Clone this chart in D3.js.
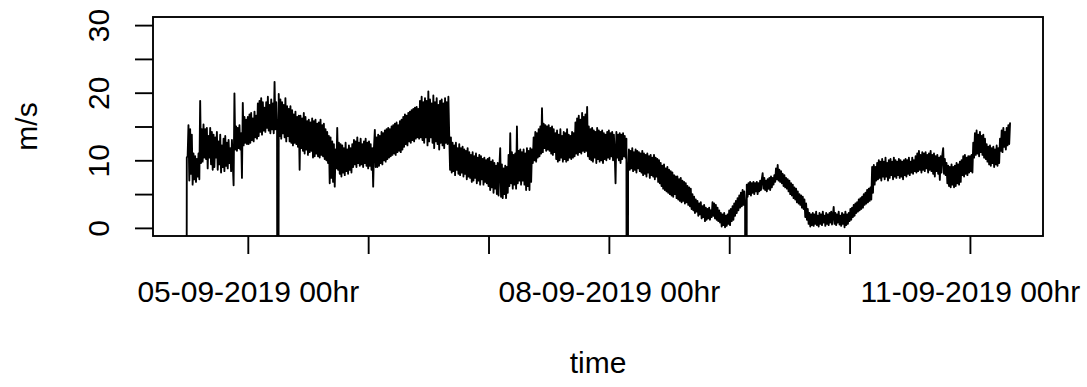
<!DOCTYPE html>
<html>
<head>
<meta charset="utf-8">
<script src="https://cdn.jsdelivr.net/npm/d3@7"></script>
<style>
  html, body { margin: 0; padding: 0; background: #ffffff; }
  svg { display: block; }
  text { font-family: "Liberation Sans", Arial, sans-serif; fill: #000; }
</style>
</head>
<body>
<svg id="chart" width="1087" height="387"></svg>
<script>
// Wind speed (m/s), 10-minute samples, one array per calendar day (UTC).
// -99 is the logger's missing-value code.
const MISSING = -99;
const stepMinutes = 10;

const sep04 = [-99, 10.4, 10.6,
  15.2, 7.0, 14.6, 8.0, 13.8, 6.4, 11.0, 7.2,
  10.6, 6.8, 10.2, 7.6, 11.0, 7.2, 18.8, 9.6, 14.6,
  9.8, 15.3, 10.4, 14.6, 10.2, 14.8, 8.8, 13.6, 10.4, 14.8, 9.4,
  14.2, 8.6, 13.8, 9.0, 13.4, 10.4, 14.2, 8.6, 12.8, 9.4, 13.8, 8.2, 12.2, 9.0,
  13.2, 8.4, 13.6, 9.2, 12.6, 8.8, 13.0, 9.6, 11.8, 8.4, 13.0, 9.6,
  6.3, 19.9,
  11.6, 15.0, 11.4, 14.8, 11.8, 15.2, 11.6, 14.0,
  7.4, 18.5,
  12.2, 16.4, 12.6, 16.0, 12.4];

const sep05 = [16.4, 12.4, 16.8, 12.6, 17.0, 13.0, 16.2, 12.8, 17.2, 13.4, 16.6, 13.2,
  18.4, 13.6, 18.8, 14.2, 19.2, 13.8, 18.6, 14.4, 17.8, 14.2,
  18.6, 14.8, 19.4, 14.4, 18.2, 14.0, 19.0, 14.6,
  18.4, 14.0, 21.6, 14.6, 18.6, 15.0,
  -99,
  19.8, 13.6, 19.0, 13.2, 18.6, 14.0, 18.2, 13.4, 19.2, 12.8,
  18.0, 13.6, 17.6, 12.8, 18.0, 12.6,
  17.4, 12.2, 16.8, 12.6, 17.2, 12.4, 16.4, 12.0, 16.6,
  8.6,
  16.6, 11.8, 16.2, 11.4, 17.0, 11.0, 16.4, 11.6, 15.8, 10.8,
  16.0, 11.2, 15.6, 11.4, 16.2, 10.4, 15.8, 10.6, 16.0, 11.0,
  15.4, 10.6, 15.6, 10.4, 16.0, 10.8, 15.2, 10.6, 15.4,
  10.2, 14.6, 10.0, 14.2, 9.6, 13.6,
  6.6, 13.4, 7.4, 12.8, 6.8, 12.4, 6.1, 11.6,
  8.8, 14.8, 8.6, 12.6,
  8.0, 12.4, 7.6, 12.2, 8.2, 11.8, 7.8, 12.6, 8.4, 11.6,
  8.0, 12.2, 8.6, 11.8, 8.2, 12.4,
  9.0, 13.0, 9.4, 12.8, 9.0, 13.4, 9.6, 12.6, 9.2, 13.2,
  9.4, 12.4, 9.0, 12.8, 9.6, 13.2, 9.2, 12.6];

const sep06 = [8.8, 12.8, 9.2, 12.4, 8.6, 11.8, 6.1, 12.0, 14.5, 9.0,
  13.4, 9.0, 13.8, 9.2, 13.6, 9.6, 14.2, 9.4, 14.0, 10.0,
  14.4, 9.8, 14.6, 10.2, 14.8, 10.4, 14.6, 10.6, 15.0, 10.8,
  15.2, 11.0, 15.4, 10.8, 15.6, 11.2, 15.2, 11.4, 15.8, 11.2,
  16.0, 11.6,
  16.4, 12.0, 16.8, 12.4, 16.6, 12.2, 17.0, 12.8, 17.2, 12.6,
  17.4, 13.0, 17.6, 12.8, 17.8, 13.2, 17.9, 13.4, 17.6, 13.2,
  18.8, 13.4, 19.4, 13.0, 18.6, 12.6, 19.2, 13.4, 18.8, 12.2,
  20.2, 12.8, 19.0, 13.4, 18.4, 12.6, 19.6, 11.8, 18.6, 12.8,
  19.2, 12.4, 18.2, 11.6, 18.8, 12.6, 19.0, 12.2, 18.4, 11.8,
  19.2, 12.6, 18.6, 12.4,
  19.4, 13.6,
  8.6,
  13.4, 8.2, 12.6, 8.4, 12.2, 7.8, 12.6, 8.6, 11.8, 8.0,
  12.4, 7.8, 11.8, 8.2, 12.0, 7.6, 11.6, 8.0, 11.4, 7.2,
  11.8, 7.6, 11.2,
  7.4, 10.8, 6.8, 11.2, 7.0, 10.6, 7.4, 11.0, 6.6, 10.4,
  7.0, 10.8, 6.4, 10.6, 7.2, 10.2, 6.4, 10.4, 6.8, 10.0,
  6.6, 10.2];

const sep07 = [6.2, 10.4, 5.6, 9.8, 6.0, 10.0, 5.2, 9.6, 5.8, 9.2,
  5.0, 9.6, 4.8, 9.0, 11.8, 4.6, 9.4, 4.4, 8.8, 5.0,
  9.2, 4.4, 9.0, 5.2,
  10.8, 6.2, 14.0, 6.6, 11.2, 5.8, 10.8, 6.4, 11.0, 5.8,
  15.0, 6.6, 11.4, 7.0, 11.6, 6.4, 11.2, 7.0, 11.6, 6.4,
  11.0, 5.6, 11.8, 6.2, 11.4, 5.6, 11.8, 6.8, 11.6,
  9.6, 13.4, 10.0, 14.2, 9.8, 14.0, 10.4, 14.6, 10.6, 15.0, 11.0,
  17.7,
  11.2, 15.4, 11.8, 15.2, 11.4, 15.0, 11.6, 15.2, 11.4, 14.8,
  11.0, 15.0, 10.8, 14.6, 11.2,
  14.0, 10.2, 14.4, 9.8, 13.8, 10.0, 14.6, 10.4, 13.6, 9.8,
  14.2, 10.2, 14.0, 9.8, 14.6, 10.0, 13.8, 10.4, 13.6, 10.2,
  14.2, 10.4, 14.0, 10.6,
  15.6, 11.0, 16.2, 10.8, 16.6, 11.2, 16.0, 11.0, 17.0, 11.4,
  16.4, 11.2, 16.8, 11.4,
  17.9,
  10.6, 15.0, 10.2, 14.6, 10.0, 14.8, 9.8, 14.4, 10.4, 14.2,
  9.6, 14.8, 10.2, 14.4, 9.8, 14.2, 10.0, 14.4, 9.6, 14.0,
  10.2, 13.8, 10.0, 14.2, 10.4];

const sep08 = [14.4, 10.2, 14.0, 10.6, 14.2, 10.0, 13.8, 11.0, 6.6, 14.2,
  10.4, 13.8, 10.0, 14.0, 9.6, 13.8, 10.2, 14.0, 10.6, 13.6,
  10.4, 13.2,
  -99,
  8.8, 11.6, 8.6, 11.4, 8.8, 11.8, 8.4, 11.2, 8.6, 11.6,
  8.2, 11.4, 8.8, 11.2, 8.4, 11.0, 8.2, 11.4,
  7.8, 11.0, 8.0, 10.8, 7.6, 11.0, 8.2, 10.6, 7.4, 10.8,
  7.8, 10.4, 7.6, 10.8, 7.2, 10.4, 7.6, 10.2, 6.8, 10.0,
  6.6, 9.6, 6.2, 9.2, 5.8, 9.4, 5.6, 8.8, 5.4, 9.0,
  5.2, 8.6, 5.0, 8.4, 4.8, 8.2, 4.6, 7.8, 5.0, 7.6,
  4.4, 7.6, 4.2, 7.2, 4.0, 7.4, 3.8, 7.0, 4.0, 6.8,
  3.6, 6.6, 3.8, 6.2, 3.4, 6.0, 3.2, 5.8, 2.8,
  5.0, 2.6, 4.6, 2.2, 4.2, 2.4, 4.0, 1.8, 3.6, 2.0,
  3.8, 1.4, 3.2, 1.6, 3.4, 1.0, 3.0, 1.2, 2.8, 1.4,
  3.0, 1.2, 2.6,
  1.6, 3.8, 1.8, 3.6, 1.4, 3.4, 1.2, 3.0, 1.0, 2.6, 0.8, 2.2,
  0.2, 2.0, 0.4, 2.2, 0.1, 1.8, 0.3, 2.0, 0.6];

const sep09 = [2.6, 0.4, 2.8, 1.0, 3.2, 1.2, 3.6, 1.8, 4.0, 2.2,
  4.4, 2.6, 4.8, 3.0, 5.2, 3.2, 5.6, 3.4, 5.4, 3.6,
  -99,
  6.4, 4.6, 6.6, 5.0, 6.8, 4.8, 6.6, 5.2, 6.8, 5.0,
  6.6, 5.4, 6.8, 5.0, 6.6, 5.4,
  7.0, 5.6, 7.2, 8.1, 5.8, 7.4, 5.6, 7.0, 5.4, 7.2,
  5.8, 7.4, 5.6, 7.6, 6.0, 7.4, 6.4, 7.8,
  6.8, 8.8, 7.2, 9.3, 7.0, 8.6,
  6.8, 8.4, 6.6, 8.0, 6.2, 7.8, 6.0, 7.4, 5.8, 7.2,
  5.4, 7.0, 5.0, 6.6, 4.8, 6.4, 4.4, 6.0, 4.2, 5.8,
  3.8, 5.4, 3.6, 5.0, 3.4, 4.8, 3.0, 4.6, 2.8, 4.2,
  1.6, 3.6, 1.2, 2.8, 0.6, 2.2, 0.2, 2.0, 0.4,
  2.2, 0.3, 2.0, 0.6, 2.4, 0.4, 1.8, 0.2, 2.2, 0.6,
  2.0, 0.4, 2.4, 0.8, 1.8, 0.3, 2.2, 0.6, 2.0, 0.4,
  2.2, 0.8, 2.4, 0.5, 1.8, 3.1, 0.6, 2.2, 0.4, 2.0,
  0.8, 2.4, 0.5, 1.8, 0.3, 2.2, 0.6, 2.0, 0.1, 2.4,
  0.4, 2.0, 0.6, 2.2];

const sep10 = [1.0, 2.8, 1.2, 3.0, 1.6, 3.4, 1.8, 3.6, 2.2, 3.8,
  2.4, 4.2, 2.6, 4.4, 2.8, 4.6, 3.0, 5.0, 3.4, 5.2,
  3.6, 5.6, 3.8, 5.8, 4.0, 6.0, 4.2,
  9.0, 5.2, 9.3, 6.4, 9.0, 7.0, 9.6,
  7.2, 10.0, 7.4, 9.8, 7.0, 10.2, 7.6, 9.8, 7.2, 10.4,
  7.6, 9.6, 7.0, 10.0, 7.4, 10.2, 7.8, 9.8, 7.2, 10.4,
  7.6, 10.0, 7.4, 9.8, 7.8, 10.2, 7.4, 10.0, 7.6, 9.8,
  7.2, 10.0,
  7.8, 10.2, 7.6, 10.0, 8.0, 10.4, 7.8, 9.8, 8.2, 10.4,
  8.0, 10.0, 8.4, 10.6,
  8.2, 11.0, 8.4, 11.4, 8.6, 10.8, 8.2, 11.2, 8.6, 11.0,
  8.4, 11.2, 8.8, 10.8, 8.2, 11.0, 8.6, 11.4, 8.4, 10.8,
  8.0, 11.0, 7.6, 10.6, 8.4, 10.8, 8.0, 10.4, 7.1, 10.6,
  8.2, 10.8, 11.8, 8.0, 10.2, 7.8,
  9.6, 6.6, 9.2, 6.2, 9.0, 6.0, 9.4, 6.4, 9.0, 6.0,
  9.2, 6.2, 9.6, 6.6, 9.4, 6.4, 9.8, 6.8, 10.0,
  7.8, 10.6, 7.6, 10.8, 8.0, 10.4, 7.8, 10.6, 8.2];

const sep11 = [10.6, 8.4, 10.8, 8.2,
  12.6, 10.4, 14.0, 10.8, 14.4, 11.0, 13.8, 10.6, 14.2, 11.2,
  13.6, 10.8, 13.8, 10.4, 13.2, 10.2,
  12.4, 9.8, 12.0, 9.4, 12.2, 9.2, 11.8, 9.6, 12.0, 9.0,
  11.6, 9.4, 12.2, 9.2, 11.8, 9.6,
  13.2, 11.4, 14.4, 11.2, 14.8, 12.0, 14.2, 11.6, 14.8, 12.2,
  15.2, 12.4, 15.5];

// Day blocks: date, time of the first sample, values
const dayBlocks = [
  ["2019-09-04", "11:40", sep04],
  ["2019-09-05", "00:00", sep05],
  ["2019-09-06", "00:00", sep06],
  ["2019-09-07", "00:00", sep07],
  ["2019-09-08", "00:00", sep08],
  ["2019-09-09", "00:00", sep09],
  ["2019-09-10", "00:00", sep10],
  ["2019-09-11", "00:00", sep11]
];

// Axis ticks and labels
const xTickDays = ["2019-09-05", "2019-09-06", "2019-09-07", "2019-09-08",
                   "2019-09-09", "2019-09-10", "2019-09-11"];
const xLabelDays = ["2019-09-05", "2019-09-08", "2019-09-11"];
const yTicks = [0, 5, 10, 15, 20, 25, 30];
const yLabelTicks = [0, 10, 20, 30];
const yLimits = [0, 30];
const xTitle = "time";
const yTitle = "m/s";

// ---- build the series ----
const parseDay = d3.utcParse("%Y-%m-%d %H:%M");
const series = [];
dayBlocks.forEach(([day, first, vals]) => {
  const t0 = parseDay(day + " " + first).getTime();
  vals.forEach((v, i) => {
    series.push({ t: new Date(t0 + i * stepMinutes * 60000), v: v });
  });
});

// ---- layout (plot box) ----
const box = { left: 153, right: 1043, top: 17, bottom: 236 };
const lw = 1.875;
const fontPx = 30;

// 4% extension of the data ranges on each side
const tExt = d3.extent(series, d => d.t);
const tPad = (tExt[1] - tExt[0]) * 0.04;
const yPad = (yLimits[1] - yLimits[0]) * 0.04;

const x = d3.scaleUtc()
  .domain([new Date(+tExt[0] - tPad), new Date(+tExt[1] + tPad)])
  .range([box.left, box.right]);
const y = d3.scaleLinear()
  .domain([yLimits[0] - yPad, yLimits[1] + yPad])
  .range([box.bottom, box.top]);

const svg = d3.select("#chart");

svg.append("defs").append("clipPath").attr("id", "plotclip")
  .append("rect")
  .attr("x", box.left).attr("y", box.top)
  .attr("width", box.right - box.left).attr("height", box.bottom - box.top);

// ---- series line ----
const line = d3.line().x(d => x(d.t)).y(d => y(d.v));
svg.append("path")
  .datum(series)
  .attr("clip-path", "url(#plotclip)")
  .attr("d", line)
  .attr("fill", "none")
  .attr("stroke", "#000")
  .attr("stroke-width", lw)
  .attr("stroke-linejoin", "round")
  .attr("stroke-linecap", "round");

// ---- x axis ----
const fmt = d3.utcFormat("%d-%m-%Y %Hhr");
const dayKey = d3.utcFormat("%Y-%m-%d");
const parseD = d3.utcParse("%Y-%m-%d");
const labelSet = new Set(xLabelDays);
const xAxis = d3.axisBottom(x)
  .tickValues(xTickDays.map(parseD))
  .tickSize(18)
  .tickFormat(d => labelSet.has(dayKey(d)) ? fmt(d) : "");
const gx = svg.append("g")
  .attr("transform", `translate(0,${box.bottom})`)
  .call(xAxis);
gx.select(".domain").remove();
gx.selectAll(".tick line").attr("stroke", "#000").attr("stroke-width", lw);
gx.selectAll(".tick text")
  .attr("y", 65.5).attr("dy", null)
  .style("font-size", fontPx + "px")
  .attr("fill", "#000");

// ---- y axis ----
const yLabelSet = new Set(yLabelTicks);
const yAxis = d3.axisLeft(y)
  .tickValues(yTicks)
  .tickSize(18)
  .tickFormat(d => yLabelSet.has(d) ? String(d) : "");
const gy = svg.append("g")
  .attr("transform", `translate(${box.left},0)`)
  .call(yAxis);
gy.select(".domain").remove();
gy.selectAll(".tick line").attr("stroke", "#000").attr("stroke-width", lw);
gy.selectAll(".tick text")
  .attr("x", null).attr("dy", null)
  .attr("text-anchor", "middle")
  .attr("transform", "translate(-44,0) rotate(-90)")
  .style("font-size", fontPx + "px")
  .attr("fill", "#000");

// ---- plot box ----
svg.append("rect")
  .attr("x", box.left).attr("y", box.top)
  .attr("width", box.right - box.left).attr("height", box.bottom - box.top)
  .attr("fill", "none").attr("stroke", "#000").attr("stroke-width", lw);

// ---- axis titles ----
svg.append("text")
  .attr("x", (box.left + box.right) / 2).attr("y", 373)
  .attr("text-anchor", "middle")
  .style("font-size", fontPx + "px")
  .text(xTitle);
svg.append("text")
  .attr("transform", `translate(37,${(box.top + box.bottom) / 2}) rotate(-90)`)
  .attr("text-anchor", "middle")
  .style("font-size", fontPx + "px")
  .text(yTitle);
</script>
</body>
</html>
